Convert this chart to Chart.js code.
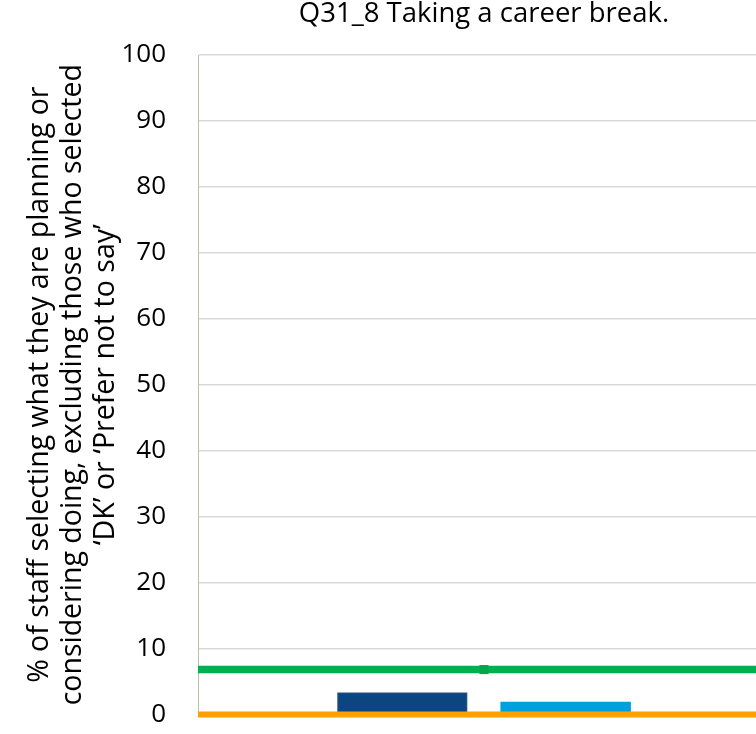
<!DOCTYPE html>
<html>
  <head>
    <meta charset="utf-8">
    <title>Q31_8 Taking a career break.</title>
    <style>
      body {
        margin: 0;
        background: #ffffff;
        overflow: hidden;
      }
      #wrap {
        position: relative;
        width: 770px;
        height: 734px;
      }
    </style>
  </head>
  <body>
    <script src="https://cdn.jsdelivr.net/npm/chart.js@4/dist/chart.umd.min.js"></script>

    <div id="wrap"><canvas id="chart"></canvas></div>

    <script>
      // data
      var chartTitle = 'Q31_8 Taking a career break.';
      var categories = ['Taking a career break'];
      var seriesA = [3.3];     // dark blue bar
      var seriesB = [1.85];    // light blue bar
      var greenLevel = 6.8;    // green reference line
      var orangeLevel = 0;     // orange reference line
      var yTicks = [0, 10, 20, 30, 40, 50, 60, 70, 80, 90, 100];
      var yTitle = [
        '% of staff selecting what they are planning or',
        'considering doing, excluding those who selected',
        '\u2018DK\u2019 or \u2018Prefer not to say\u2019'
      ];

      // the reference lines run across the whole category, marker in the middle
      var lineSlots = ['start', 'mid', 'end'];
      var greenData = lineSlots.map(function () { return greenLevel; });
      var orangeData = lineSlots.map(function () { return orangeLevel; });

      var font = "'Open Sans', 'Liberation Sans', sans-serif";

      var ctx = document.getElementById('chart').getContext('2d');
      var myChart = new Chart(ctx, {
        type: 'bar',
        data: {
          labels: categories,
          datasets: [
            {
              type: 'line',
              data: orangeData,
              xAxisID: 'xLine',
              borderColor: '#FF9F00',
              borderWidth: 6,
              pointRadius: 0,
              clip: false,
              order: 0
            },
            {
              type: 'line',
              data: greenData,
              xAxisID: 'xLine',
              borderColor: '#00B050',
              borderWidth: 7.5,
              pointStyle: 'rect',
              pointRadius: [0, 6.4, 0],
              pointBackgroundColor: '#00A84C',
              pointBorderWidth: 0,
              clip: false,
              order: 1
            },
            {
              data: seriesA,
              backgroundColor: '#0B4680',
              borderColor: '#3E6590',
              borderWidth: 1,
              barThickness: 'flex',
              categoryPercentage: 1.142,
              barPercentage: 0.795,
              order: 3
            },
            {
              data: seriesB,
              backgroundColor: '#00A0DA',
              borderWidth: 0,
              barThickness: 'flex',
              categoryPercentage: 1.142,
              barPercentage: 0.795,
              order: 3
            }
          ]
        },
        options: {
          responsive: true,
          maintainAspectRatio: false,
          animation: false,
          layout: {
            padding: 0
          },
          scales: {
            x: {
              display: false,
              offset: true
            },
            xLine: {
              type: 'category',
              labels: lineSlots,
              offset: false,
              display: false
            },
            y: {
              min: 0,
              max: 100,
              afterBuildTicks: function (axis) {
                axis.ticks = yTicks.map(function (v) { return { value: v }; });
              },
              afterFit: function (axis) {
                axis.width = 198;
              },
              border: { color: '#BDBDA8', width: 1 },
              grid: {
                color: '#D9D9D9',
                lineWidth: 1.5,
                drawTicks: true,
                tickLength: 28,
                tickColor: 'rgba(0,0,0,0)'
              },
              ticks: {
                color: '#000000',
                padding: 4,
                font: { family: font, size: 26 }
              },
              title: {
                display: true,
                text: yTitle,
                color: '#000000',
                padding: { top: 23, bottom: 0 },
                font: { family: font, size: 28.5, lineHeight: '33px' }
              }
            }
          },
          plugins: {
            legend: { display: false },
            tooltip: { enabled: false },
            title: {
              display: true,
              text: chartTitle,
              fullSize: false,
              color: '#000000',
              padding: { top: 0, bottom: 27.5 },
              font: { family: font, size: 27.5, weight: 'normal', lineHeight: 1.0 }
            }
          }
        }
      });
    </script>
  </body>
</html>
